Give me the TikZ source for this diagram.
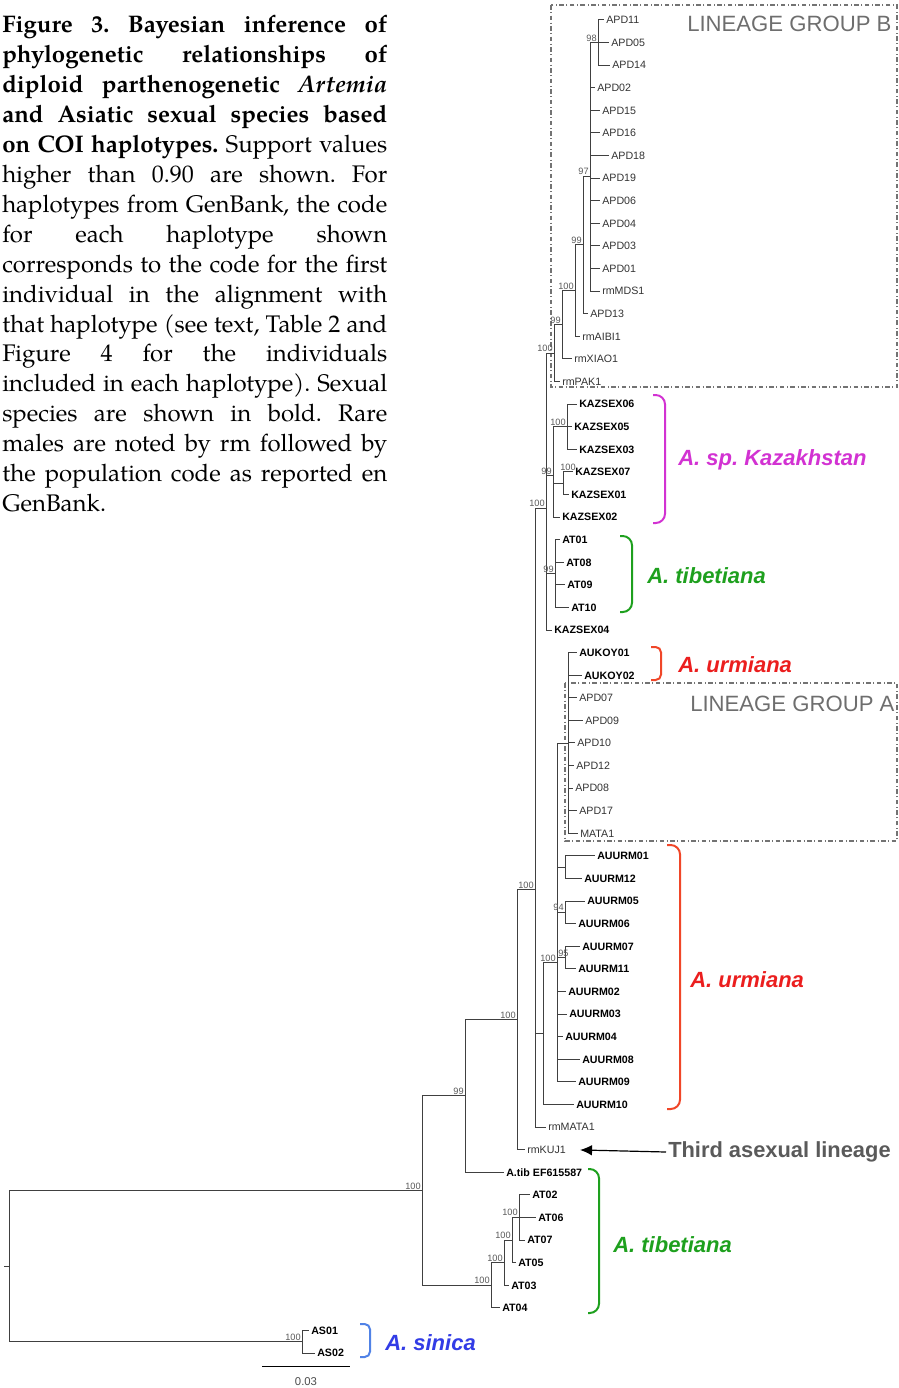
\documentclass[tikz,border=0pt]{standalone}
\usepackage{fontspec}
\newfontfamily\arial{Liberation Sans}
\newfontfamily\pal{TeX Gyre Pagella}
\usetikzlibrary{arrows.meta}
\definecolor{kazc}{RGB}{210,50,210}
\definecolor{tibc}{RGB}{30,160,30}
\definecolor{urmc}{RGB}{235,30,30}
\definecolor{urmb}{RGB}{240,70,40}
\definecolor{sinc}{RGB}{50,60,230}
\definecolor{sinb}{RGB}{80,130,230}
\definecolor{linc}{RGB}{110,110,110}
\definecolor{thrc}{RGB}{90,90,90}
\newcommand\cln[1]{\makebox[288.75pt][s]{#1}}
\begin{document}
\frenchspacing
\begin{tikzpicture}[x=0.75pt,y=-0.75pt,
  br/.style={draw=black!75, line width=0.75pt},
  leaf/.style={anchor=west, inner xsep=1.5pt, inner ysep=0pt, font=\arial\fontsize{8}{9}\selectfont, text=black!80, text height=5.7pt, text depth=0pt},
  bleaf/.style={leaf, font=\arial\bfseries\fontsize{8}{9}\selectfont, text=black},
  sup/.style={anchor=south east, inner sep=0.8pt, font=\arial\fontsize{6.9}{7}\selectfont, text=black!65},
  capl/.style={anchor=base west, inner sep=0pt, font=\pal\fontsize{18}{22}\selectfont},
  spec/.style={anchor=west, inner sep=0pt, font=\arial\bfseries\itshape\fontsize{16.5}{18}\selectfont},
  brk/.style={line width=1.5pt, rounded corners=7pt},
  lbox/.style={draw=black!55, line width=0.8pt, dash pattern=on 3.4pt off 1.9pt on 0.7pt off 1.9pt},
  lgrp/.style={anchor=west, inner sep=0pt, text=linc, font=\arial\fontsize{16.6}{18}\selectfont}]
\useasboundingbox (0,0) rectangle (899,1388);

% ---------- caption ----------
\node[capl] (cap1) at (2,33.0) {\cln{\bfseries Figure 3. Bayesian inference of}};
\node[capl] (cap2) at (2,62.9) {\cln{\bfseries phylogenetic relationships of}};
\node[capl] (cap3) at (2,92.8) {\cln{\bfseries diploid parthenogenetic \itshape Artemia}};
\node[capl] (cap4) at (2,122.7) {\cln{\bfseries and Asiatic sexual species based}};
\node[capl] (cap5) at (2,152.6) {\cln{{\bfseries on COI haplotypes.} Support values}};
\node[capl] (cap6) at (2,182.5) {\cln{higher than 0.90 are shown. For}};
\node[capl] (cap7) at (2,212.4) {\cln{haplotypes from GenBank, the code}};
\node[capl] (cap8) at (2,242.3) {\cln{for each haplotype shown}};
\node[capl] (cap9) at (2,272.2) {\cln{corresponds to the code for the first}};
\node[capl] (cap10) at (2,302.1) {\cln{individual in the alignment with}};
\node[capl] (cap11) at (2,332.0) {\cln{that haplotype (see text, Table 2 and}};
\node[capl] (cap12) at (2,361.9) {\cln{Figure 4 for the individuals}};
\node[capl] (cap13) at (2,391.8) {\cln{included in each haplotype). Sexual}};
\node[capl] (cap14) at (2,421.7) {\cln{species are shown in bold. Rare}};
\node[capl] (cap15) at (2,451.6) {\cln{males are noted by rm followed by}};
\node[capl] (cap16) at (2,481.5) {\cln{the population code as reported en}};
\node[capl] (cap17) at (2,511.4) {GenBank.};

% ---------- lineage boxes ----------
\draw[lbox] (551,5) rectangle (897,387);
\draw[lbox] (565,683) rectangle (897,841);
\node[lgrp] (lgB) at (687,24) {LINEAGE GROUP B};
\node[lgrp] (lgA) at (690,704) {LINEAGE GROUP A};

% ---------- leaves ----------
\foreach \i/\x/\t in {0/604/APD11,1/609/APD05,2/610/APD14,3/595/APD02,4/600/APD15,5/600/APD16,6/609/APD18,7/600/APD19,8/600/APD06,9/600/APD04,10/600/APD03,11/600/APD01,12/600/rmMDS1,13/588/APD13,14/580/rmAIBI1,15/572/rmXIAO1,16/560/rmPAK1,30/577/APD07,31/583/APD09,32/575/APD10,33/574/APD12,34/573/APD08,35/577/APD17,36/578/MATA1,49/546/rmMATA1,50/525/rmKUJ1}
  \node[leaf] (l\i) at (\x,{20+22.593*\i}) {\t};
\foreach \i/\x/\t in {17/577/KAZSEX06,18/572/KAZSEX05,19/577/KAZSEX03,20/573/KAZSEX07,21/569/KAZSEX01,22/560/KAZSEX02,23/560/AT01,24/564/AT08,25/565/AT09,26/569/AT10,27/552/KAZSEX04,28/577/AUKOY01,29/582/AUKOY02,37/595/AUURM01,38/582/AUURM12,39/585/AUURM05,40/576/AUURM06,41/580/AUURM07,42/576/AUURM11,43/566/AUURM02,44/567/AUURM03,45/563/AUURM04,46/580/AUURM08,47/576/AUURM09,48/574/AUURM10,51/504/A.tib EF615587,52/530/AT02,53/536/AT06,54/525/AT07,55/516/AT05,56/509/AT03,57/500/AT04,58/309/AS01,59/315/AS02}
  \node[bleaf] (l\i) at (\x,{20+22.593*\i}) {\t};

% ---------- internal nodes ----------
\coordinate (rootstub) at (4,1266.2);
\coordinate (root) at (9,1266.2);
\coordinate (n422) at (422,1190.6);
\coordinate (nAS) at (302,1341.7);
\coordinate (n465) at (465,1095.9);
\coordinate (n491) at (491,1285.2);
\coordinate (nB2) at (504,1262.6);
\coordinate (nC) at (512,1240.0);
\coordinate (nD) at (519,1217.4);
\coordinate (n517) at (517,1019.6);
\coordinate (n535) at (535,889.6);
\coordinate (n546) at (546,508.1);
\coordinate (n543) at (543,1033.6);
\coordinate (n557) at (557,962.6);
\coordinate (nA) at (568,743.0);
\coordinate (nU01) at (565,867.2);
\coordinate (nU94) at (565,912.4);
\coordinate (nU95) at (565,957.6);
\coordinate (nB100b) at (554,353.1);
\coordinate (nB99b) at (562,324.8);
\coordinate (nB100a) at (575,290.6);
\coordinate (nB99a) at (583,244.9);
\coordinate (nB97) at (590,176.1);
\coordinate (nB98) at (598,42.6);
\coordinate (nK99) at (553,475.6);
\coordinate (nK100a) at (567,426.7);
\coordinate (nK100b) at (563,483.2);
\coordinate (nAT99) at (555,573.5);

% ---------- branches ----------
\draw[br] (rootstub) -- (root);
\draw[br] (root) |- (n422);
\draw[br] (root) |- (nAS);
\draw[br] (n422) |- (n465);
\draw[br] (n422) |- (n491);
\draw[br] (n465) |- (n517);
\draw[br] (n465) |- (l51.west);
\draw[br] (n517) |- (n535);
\draw[br] (n517) |- (l50.west);
\draw[br] (n535) |- (n546);
\draw[br] (n535) |- (n543);
\draw[br] (n535) |- (l49.west);
\draw[br] (n546) |- (nB100b);
\draw[br] (n546) |- (nK99);
\draw[br] (n546) |- (nAT99);
\draw[br] (n546) |- (l27.west);
\draw[br] (nB100b) |- (nB99b);
\draw[br] (nB100b) |- (l16.west);
\draw[br] (nB99b) |- (nB100a);
\draw[br] (nB99b) |- (l15.west);
\draw[br] (nB100a) |- (nB99a);
\draw[br] (nB100a) |- (l14.west);
\draw[br] (nB99a) |- (nB97);
\draw[br] (nB99a) |- (l13.west);
\draw[br] (nB97) |- (nB98);
\foreach \i in {3,...,12} \draw[br] (nB97) |- (l\i.west);
\foreach \i in {0,1,2} \draw[br] (nB98) |- (l\i.west);
\draw[br] (nK99) |- (nK100a);
\draw[br] (nK99) |- (nK100b);
\draw[br] (nK99) |- (l22.west);
\foreach \i in {17,18,19} \draw[br] (nK100a) |- (l\i.west);
\foreach \i in {20,21} \draw[br] (nK100b) |- (l\i.west);
\foreach \i in {23,...,26} \draw[br] (nAT99) |- (l\i.west);
\draw[br] (n543) |- (n557);
\draw[br] (n543) |- (l48.west);
\draw[br] (n557) |- (nA);
\draw[br] (n557) |- (nU01);
\draw[br] (n557) |- (nU94);
\draw[br] (n557) |- (nU95);
\foreach \i in {43,...,47} \draw[br] (n557) |- (l\i.west);
\foreach \i in {28,...,36} \draw[br] (nA) |- (l\i.west);
\foreach \i in {37,38} \draw[br] (nU01) |- (l\i.west);
\foreach \i in {39,40} \draw[br] (nU94) |- (l\i.west);
\foreach \i in {41,42} \draw[br] (nU95) |- (l\i.west);
\draw[br] (n491) |- (nB2);
\draw[br] (n491) |- (l57.west);
\draw[br] (nB2) |- (nC);
\draw[br] (nB2) |- (l56.west);
\draw[br] (nC) |- (nD);
\draw[br] (nC) |- (l55.west);
\foreach \i in {52,53,54} \draw[br] (nD) |- (l\i.west);
\foreach \i in {58,59} \draw[br] (nAS) |- (l\i.west);

% ---------- support values ----------
\node[sup] (s98) at (nB98) {98};
\node[sup] (s97) at (nB97) {97};
\node[sup] (s99a) at (nB99a) {99};
\node[sup] (s100a) at (nB100a) {100};
\node[sup] (s99b) at (nB99b) {99};
\node[sup] (s100b) at (nB100b) {100};
\node[sup] (s546) at (n546) {100};
\node[sup] (sK99) at (nK99) {99};
\node[sup] (sK100a) at (nK100a) {100};
\node[sup, anchor=center] (sK100b) at (568,467) {100};
\node[sup] (sAT99) at (nAT99) {99};
\node[sup] (sU94) at (nU94) {94};
\node[sup, anchor=south west] (sU95) at (557,957.6) {95};
\node[sup] (s557) at (n557) {100};
\node[sup] (s535) at (n535) {100};
\node[sup] (s517) at (n517) {100};
\node[sup] (s465) at (n465) {99};
\node[sup] (s422) at (n422) {100};
\node[sup] (sD) at (nD) {100};
\node[sup] (sC) at (nC) {100};
\node[sup] (sB2) at (nB2) {100};
\node[sup] (s491) at (n491) {100};
\node[sup] (sAS) at (nAS) {100};

% ---------- brackets and species names ----------
\draw[brk, draw=kazc] (653,395) -- (665,395) -- (665,523) -- (653,523);
\node[spec, text=kazc] (kaz) at (678,460) {A. sp. Kazakhstan};
\draw[brk, draw=tibc] (620,536) -- (632,536) -- (632,612) -- (620,612);
\node[spec, text=tibc] (tib1) at (647,576) {A. tibetiana};
\draw[brk, draw=urmb, rounded corners=4pt] (651,647) -- (661,647) -- (661,680) -- (651,680);
\node[spec, text=urmc] (urm1) at (678,665) {A. urmiana};
\draw[brk, draw=urmb] (667,845) -- (680,845) -- (680,1109) -- (667,1109);
\node[spec, text=urmc] (urm2) at (690,980) {A. urmiana};
\draw[brk, draw=tibc] (588,1169) -- (599,1169) -- (599,1313) -- (588,1313);
\node[spec, text=tibc] (tib2) at (613,1245) {A. tibetiana};
\draw[brk, draw=sinb, rounded corners=4pt] (360,1324) -- (370,1324) -- (370,1357) -- (360,1357);
\node[spec, text=sinc] (sin) at (385,1343) {A. sinica};

% ---------- third asexual lineage ----------
\node[anchor=west, inner sep=1.5pt, text=thrc, font=\arial\bfseries\fontsize{16.4}{18}\selectfont] (third) at (666,1152) {Third asexual lineage};
\draw[line width=0.9pt, -{Latex[length=9pt,width=8pt]}, shorten >=9pt] (third.west) -- (l50.east);

% ---------- scale bar ----------
\coordinate (sb1) at (262,1366);
\coordinate (sb2) at (350,1366);
\draw[line width=0.75pt] (sb1) -- (sb2);
\node[font=\arial\fontsize{8.5}{9}\selectfont, text=black!70, inner sep=0pt] (sbl) at (306,1382) {0.03};
\end{tikzpicture}
\end{document}
